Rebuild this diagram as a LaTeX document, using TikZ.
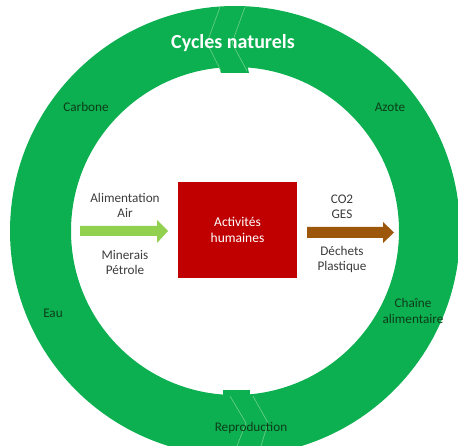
\documentclass[tikz,border=0pt]{standalone}
\usepackage{fontspec}
\setmainfont{Carlito}
\definecolor{ringgreen}{RGB}{12,176,80}
\definecolor{seamgreen}{RGB}{110,210,135}
\definecolor{lblgreen}{RGB}{14,60,26}
\definecolor{boxred}{RGB}{192,0,0}
\definecolor{inarrow}{RGB}{146,208,80}
\definecolor{outarrow}{RGB}{156,87,10}
\definecolor{txtgrey}{RGB}{60,60,60}
\tikzset{
  ringlabel/.style={text=lblgreen, font=\fontsize{13.2}{15}\selectfont, align=center, inner sep=0pt},
  flowlabel/.style={text=txtgrey, font=\fontsize{13.2}{15}\selectfont, align=center, inner sep=0pt},
  seam/.style={draw=seamgreen, line width=0.6pt}
}
\begin{document}
\begin{tikzpicture}[x=1pt,y=-1pt]
\useasboundingbox (0,0) rectangle (458,446);
% ring
\fill[ringgreen, even odd rule] (235,231) circle[radius=225pt] (235,231) circle[radius=164pt];
% notches
\fill[ringgreen] (218,64) -- (247,64) -- (249,73) -- (221,73) -- cycle;
\fill[ringgreen] (223,390) -- (250,390) -- (250,398) -- (223,398) -- cycle;
% seams
\draw[seam] (220,7) -- (207,43) -- (221,71);
\draw[seam] (245,7) -- (232,43) -- (247,71);
\draw[seam] (230,396) -- (246,423) -- (237,446);
\draw[seam] (253,396) -- (268,423) -- (261,446);
% ring labels
\node[text=white, font=\fontsize{20}{22}\selectfont\bfseries, inner sep=0pt] (title) at (233,43) {Cycles naturels};
\node[ringlabel] (carbone) at (86,107) {Carbone};
\node[ringlabel] (azote) at (390,107) {Azote};
\node[ringlabel] (eau) at (53,313) {Eau};
\node[ringlabel, font=\fontsize{13.2}{16}\selectfont] (chaine) at (413,311) {Chaîne\\alimentaire};
\node[ringlabel] (repro) at (251,428) {Reproduction};
% central box
\node[fill=boxred, minimum width=119pt, minimum height=96pt, inner sep=0pt, text=white,
      font=\fontsize{13.5}{16.5}\selectfont, align=center] (act) at (237.5,230) {Activités\\humaines};
% arrows
\fill[inarrow] (80,226) -- (157,226) -- (157,220) -- (168,231) -- (157,243) -- (157,236) -- (80,236) -- cycle;
\fill[outarrow] (307,227) -- (383,227) -- (383,222) -- (394,232.5) -- (383,243) -- (383,238) -- (307,238) -- cycle;
% flow labels
\node[flowlabel] (alim) at (125,205.5) {Alimentation\\Air};
\node[flowlabel] (mine) at (125,263) {Minerais\\Pétrole};
\node[flowlabel] (co2) at (342,207) {CO2\\GES};
\node[flowlabel] (dech) at (342,259.5) {Déchets\\Plastique};
\end{tikzpicture}
\end{document}
